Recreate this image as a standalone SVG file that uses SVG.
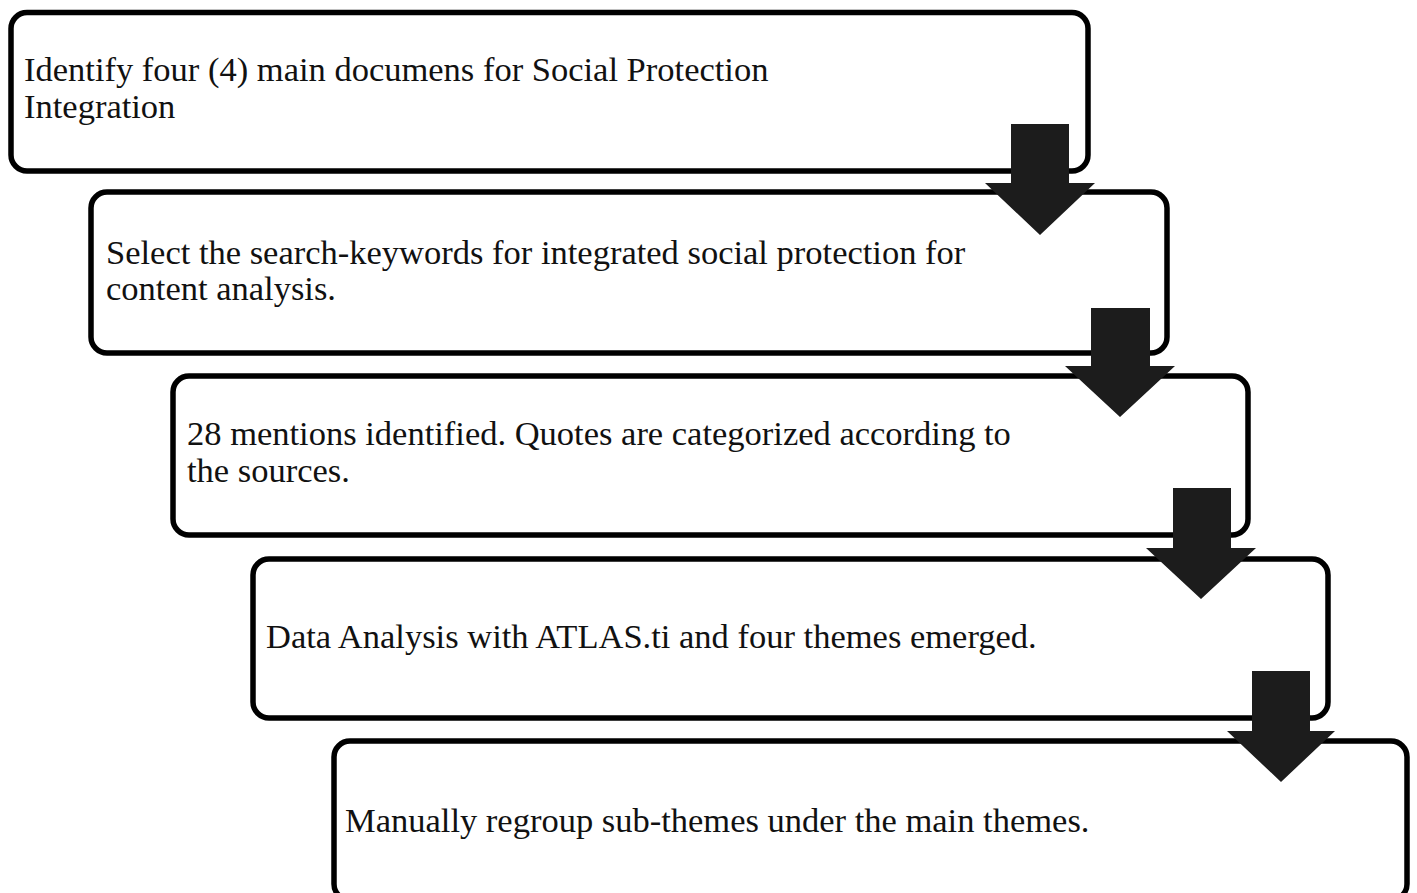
<svg xmlns="http://www.w3.org/2000/svg" width="1417" height="893" viewBox="0 0 1417 893">
<style>
.box{fill:#fff;stroke:#000;stroke-width:5.5}
.t{font-family:"Liberation Serif","Times New Roman",serif;font-size:34.5px;fill:#111}
.arr{fill:#1c1c1c}
</style>
<rect width="1417" height="893" fill="#fff"/>
<g id="node1"><rect class="box" x="11" y="12.5" width="1077" height="158.5" rx="16"/>
<text class="t" x="24" y="81">Identify four (4) main documens for Social Protection</text>
<text class="t" x="24" y="118">Integration</text></g>
<g id="node2"><rect class="box" x="91" y="192" width="1076" height="161" rx="16"/>
<text class="t" x="106" y="264">Select the search-keywords for integrated social protection for</text>
<text class="t" x="106" y="300">content analysis.</text></g>
<g id="node3"><rect class="box" x="173" y="376" width="1075" height="159" rx="16"/>
<text class="t" x="187" y="445">28 mentions identified. Quotes are categorized according to</text>
<text class="t" x="187" y="482">the sources.</text></g>
<g id="node4"><rect class="box" x="253" y="559" width="1075" height="159" rx="16"/>
<text class="t" x="266" y="648">Data Analysis with ATLAS.ti and four themes emerged.</text></g>
<g id="node5"><rect class="box" x="334" y="741" width="1073" height="159" rx="16"/>
<text class="t" x="345" y="832">Manually regroup sub-themes under the main themes.</text></g>
<g id="connectors">
<polygon class="arr" points="1011,124 1069,124 1069,183 1095,183 1040,235 985,183 1011,183"/>
<polygon class="arr" points="1091,308 1150,308 1150,366 1175,366 1120,417 1065,366 1091,366"/>
<polygon class="arr" points="1173,488 1231,488 1231,548 1256,548 1201,599 1146,548 1173,548"/>
<polygon class="arr" points="1252,671 1310,671 1310,731 1335,731 1281,782 1227,731 1252,731"/>
</g>
</svg>
